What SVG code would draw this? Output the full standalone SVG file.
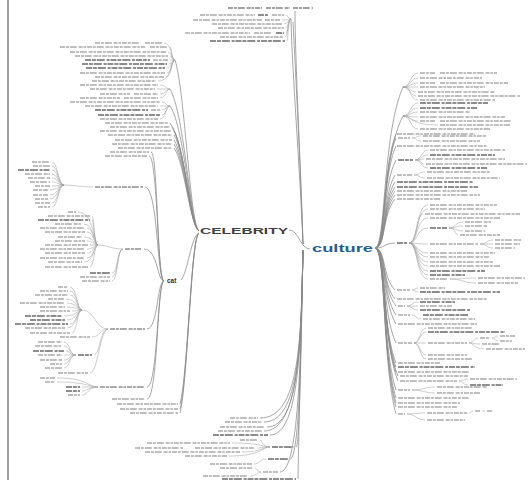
<svg xmlns="http://www.w3.org/2000/svg" width="529" height="480" viewBox="0 0 529 480">
<style>
.t{fill:none;stroke:#ababab;stroke-width:1.5;stroke-dasharray:5 .9 3 .9 7 1.8 4 .9 2.5 .9}
.b{fill:none;stroke:#6a6a6a;stroke-width:1.7;stroke-dasharray:6 .9 4 .9 8 1.8 3 .9}
.c{fill:none;stroke:#a4a4a4;stroke-width:.55}
.s{fill:none;stroke:#8a8a8a;stroke-width:.75}
.lbl{font-family:"Liberation Sans",Arial,sans-serif;font-weight:bold}
</style>
<rect width="529" height="480" fill="#fff"/>
<line x1="8" y1="0" x2="8" y2="480" stroke="#808080" stroke-width="1.5"/>

<g id="connectors">
<path class="s" d="M289 230C299 230 300 249 310 249"/>
<path class="s" d="M199 231C190 226 185 91 175 60M199 231C190 226 185 115 170 89M199 231C190 226 185 128 170 106M199 231C190 226 185 142 170 123M199 231C190 226 185 146 172 127M199 231C190 226 185 149 174 131M199 231C190 226 185 152 174 135M199 231C190 226 185 156 174 140M199 231C190 226 185 160 174 144M199 231C190 226 185 163 174 148"/>
<path class="c" d="M175 60C171 60 172 43 164 43M175 60C171 60 172 47 170 47M175 60C171 60 172 52 168 52M175 60C171 60 172 56 170 56M175 60C171 60 172 60 170 60M175 60C171 60 172 64 169 64M175 60C171 60 172 68 167 68M175 60C171 60 172 73 167 73M175 60C171 60 172 77 166 77M175 60C171 60 172 81 158 81"/>
<path class="c" d="M170 89C166 89 166 85 160 85M170 89C166 89 166 89 157 89M170 89C166 89 166 94 160 94M170 89C166 89 166 98 160 98"/>
<path class="c" d="M170 106C166 106 166 102 162 102M170 106C166 106 166 106 160 106M170 106C166 106 166 110 162 110M170 106C166 106 166 115 162 115M170 106C166 106 166 119 160 119"/>
<path class="s" d="M199 233C191 236 188 272 181 280M199 233C191 236 188 373 180 404M199 233C191 236 188 377 180 409M199 233C191 236 188 381 180 413"/>
<path class="s" d="M164 281C157 281 158 152 151 152M164 281C157 281 158 156 149 156M164 281C157 281 158 187 145 187M164 281C157 281 158 249 144 249M164 281C157 281 158 329 147 329M164 281C157 281 158 387 147 387M164 281C157 281 158 399 147 399"/>
<path class="c" d="M93 187C80 187 74 185 64 185M64 185C58 185 58 162 52 162M64 185C58 185 58 166 52 166M64 185C58 185 58 170 52 170M64 185C58 185 58 174 52 174M64 185C58 185 58 178 52 178M64 185C58 185 58 182 52 182M64 185C58 185 58 186 52 186M64 185C58 185 58 190 50 190M64 185C58 185 58 195 50 195M64 185C58 185 58 199 50 199M64 185C58 185 58 203 52 203M64 185C58 185 58 207 52 207"/>
<path class="c" d="M123 249C110 249 108 245 98 245M98 245C94 245 94 212 78 212M98 245C94 245 94 216 92 216M98 245C94 245 94 220 92 220M98 245C94 245 94 224 84 224M98 245C94 245 94 228 87 228M98 245C94 245 94 232 87 232M98 245C94 245 94 237 84 237M98 245C94 245 94 241 87 241M98 245C94 245 94 245 90 245M98 245C94 245 94 249 87 249M98 245C94 245 94 253 87 253M98 245C94 245 94 258 87 258M98 245C94 245 94 262 84 262M98 245C94 245 94 267 90 267M123 249C117 249 118 273 112 273M123 249C117 249 118 277 112 277M123 249C117 249 118 281 112 281"/>
<path class="c" d="M108 329C95 329 95 310 82 310M82 310C77 310 77 287 70 287M82 310C77 310 77 291 70 291M82 310C77 310 77 295 70 295M82 310C77 310 77 299 66 299M82 310C77 310 77 303 67 303M82 310C77 310 77 307 67 307M82 310C77 310 77 311 72 311M82 310C77 310 77 316 64 316M82 310C77 310 77 320 67 320M82 310C77 310 77 324 70 324M82 310C77 310 77 328 67 328M82 310C77 310 77 333 72 333M108 329C100 329 100 337 92 337M108 329C100 329 100 355 94 355M108 329C100 329 98 373 90 373"/>
<path class="c" d="M76 355C69 355 70 342 64 342M76 355C69 355 70 346 64 346M76 355C69 355 70 351 66 351M76 355C69 355 70 355 64 355M76 355C69 355 70 360 64 360M76 355C69 355 70 364 64 364M76 355C69 355 70 368 64 368"/>
<path class="c" d="M98 387C88 387 88 378 57 378M98 387C88 387 88 382 57 382M98 387C88 387 88 387 82 387M98 387C88 387 88 391 82 391M98 387C88 387 88 395 82 395"/>
<path class="s" d="M303 244C300 170 292 70 291 19M303 244C301 170 295 60 295 11M303 244C301 180 296 80 293 22"/>
<path class="c" d="M291 19C288 19 288 15 286 15M291 19C288 19 288 20 282 20M291 19C288 19 288 24 284 24M291 19C288 19 288 28 286 28M291 19C288 19 288 33 286 33M291 19C288 19 288 37 285 37M291 19C288 19 288 41 287 41"/>
<path class="s" d="M303 250C301 330 299 420 298 479M303 250C301 340 300 418 260 418M303 250C301 340 300 422 264 422M303 250C301 340 300 427 267 427M303 250C301 340 300 431 264 431M303 250C301 340 300 435 270 435M303 250C301 340 300 447 296 447M303 250C301 340 300 459 290 459M303 250C301 340 300 472 280 472"/>
<path class="c" d="M270 447C262 447 262 440 260 440M270 447C262 447 262 443 232 443M270 447C262 447 262 448 257 448M270 447C262 447 262 452 242 452M270 447C262 447 262 456 229 456M266 459C260 459 260 464 254 464M261 472C257 472 257 468 255 468M261 472C257 472 257 476 250 476"/>
<path class="s" d="M375 248C386 248 382 135 403 87M375 248C386 248 382 156 403 116M375 248C386 248 382 168 396 134M375 248C386 248 382 171 396 138M375 248C386 248 382 177 396 146M375 248C386 248 382 186 396 160M375 248C386 248 382 197 395 175M375 248C386 248 382 202 395 182M375 248C386 248 382 205 395 187M375 248C386 248 382 208 395 191M375 248C386 248 382 211 395 195M375 248C386 248 382 214 395 199M375 248C386 248 382 244 395 243M375 248C386 248 382 277 395 290M375 248C386 248 382 284 395 299M375 248C386 248 382 289 396 306M375 248C386 248 382 295 396 315M375 248C386 248 382 301 396 324M375 248C386 248 382 314 396 343M375 248C386 248 382 329 396 363M375 248C386 248 382 331 396 367M375 248C386 248 382 335 396 372M375 248C386 248 382 338 398 376M375 248C386 248 382 341 398 381M375 248C386 248 382 347 396 390M375 248C386 248 382 353 396 398M375 248C386 248 382 356 396 403M375 248C386 248 382 359 396 407M375 248C386 248 382 364 396 414"/>
<path class="c" d="M403 87C411 87 410 73 418 73M403 87C411 87 410 78 418 78M403 87C411 87 410 83 418 83M403 87C411 87 410 87 418 87M403 87C411 87 410 92 416 92M403 87C411 87 410 96 416 96M403 87C411 87 410 100 418 100M403 116C411 116 410 103 418 103M403 116C411 116 410 108 418 108M403 116C411 116 410 112 418 112M403 116C411 116 410 117 418 117M403 116C411 116 410 121 418 121M403 116C411 116 410 125 438 125M403 116C411 116 410 129 418 129"/>
<path class="c" d="M412 138C417 138 416 136 421 136M412 138C417 138 416 141 421 141M415 160C422 160 421 150 428 150M415 160C422 160 421 155 428 155M415 160C422 160 421 159 424 159M415 160C422 160 421 164 424 164M415 160C422 160 421 168 428 168M414 175C420 175 419 172 425 172M414 175C420 175 419 178 425 178"/>
<path class="c" d="M409 243C418 243 416 205 428 205M409 243C418 243 416 209 428 209M409 243C418 243 416 214 423 214M409 243C418 243 416 218 428 218M409 243C418 243 416 228 428 228M409 243C418 243 416 244 428 244M409 243C418 243 416 253 428 253M409 243C418 243 416 257 428 257M409 243C418 243 416 262 428 262M409 243C418 243 416 266 428 266M409 243C418 243 416 271 428 271M409 243C418 243 416 275 428 275M409 243C418 243 416 279 428 279M449 228C456 228 455 222 463 222M449 228C456 228 455 226 463 226M449 228C456 228 455 231 463 231M449 228C456 228 455 235 458 235M480 244C487 244 486 240 493 240M480 244C487 244 486 244 493 244M480 244C487 244 486 248 493 248M450 279C463 279 463 278 476 278M450 279C463 279 463 283 476 283"/>
<path class="c" d="M412 290C415 290 415 288 418 288M412 290C415 290 415 292 418 292M407 306C412 306 412 302 418 302M407 306C412 306 412 306 418 306M407 306C412 306 412 310 418 310M412 315C416 315 416 319 421 319M414 343C420 343 420 328 426 328M414 343C420 343 420 332 426 332M414 343C420 343 420 343 426 343M414 343C420 343 420 355 426 355M414 343C420 343 420 359 426 359M469 343C474 343 474 338 478 338M469 343C474 343 474 344 480 344M469 343C474 343 474 349 484 349M492 338C495 338 495 336 498 336M492 338C495 338 495 341 498 341M459 381C463 381 463 379 468 379M459 381C463 381 463 385 468 385M412 390C424 390 424 387 435 387M412 390C424 390 424 393 435 393M407 414C416 414 416 413 425 413M407 414C416 414 416 420 425 420M469 413C471 413 471 411 473 411M482 411H485"/>
</g>

<g id="celebrity"><text class="lbl" x="200" y="233.5" font-size="8.5" textLength="88" lengthAdjust="spacingAndGlyphs" fill="#404040">CELEBRITY</text></g>
<g id="culture"><text class="lbl" x="312" y="252" font-size="11.5" textLength="61" lengthAdjust="spacingAndGlyphs" fill="#255f90">culture</text></g>
<g id="cat"><text class="lbl" x="167" y="282.5" font-size="6.5" fill="#333">cat</text></g>

<g id="top-centre">
<path class="t" style="stroke:#858585" d="M228 8H262M266 8H290M293 8H313"/>
<path class="t" d="M200 15H255M272 15H284M193 20H262M265 20H280M212 24H282M218 28H284M185 33H250M254 33H272M220 37H283"/>
<path class="b" d="M258 15H268M276 33H284M210 41H285"/>
</g>

<g id="left-top">
<path class="t" d="M95 43H140M145 43H162M60 47H145M150 47H168M70 52H166M75 56H168M153 60H168M80 73H165M95 77H164M92 81H156M80 85H158M90 89H155M100 94H130M134 94H158M80 98H120M124 98H158M70 102H160M85 106H158M151 110H160M100 119H158M105 123H168M110 127H170M100 131H172M108 135H172M115 140H172M112 144H172M118 148H172"/>
<path class="b" d="M85 60H150M82 64H167M86 68H165M95 110H148M98 115H160"/>
</g>

<g id="cat-top"><path class="t" d="M110 152H149M105 156H147"/></g>

<g id="wie">
<path class="t" style="stroke:#8e8e8e" d="M95 187H143"/>
<path class="t" d="M32 162H50M33 166H50M25 174H50M28 178H50M30 182H50M35 186H50M33 190H48M33 195H48M35 199H48M35 203H50M38 207H50"/>
<path class="b" d="M18 170H50"/>
</g>

<g id="sub2">
<path class="t" style="stroke:#8e8e8e" d="M125 249H141"/>
<path class="t" d="M68 212H76M48 216H90M55 224H82M40 228H85M45 232H85M58 237H82M55 241H85M45 245H88M40 249H85M45 253H85M40 258H85M48 262H82M45 267H88M80 277H110M82 281H110"/>
<path class="b" d="M38 220H90M90 273H110"/>
</g>

<g id="sub3">
<path class="t" style="stroke:#8e8e8e" d="M110 329H145"/>
<path class="t" d="M58 287H68M40 291H68M35 295H68M48 299H64M20 303H65M40 307H65M40 311H70M25 328H65M30 333H70M60 337H90M58 373H88"/>
<path class="b" d="M25 316H62M30 320H65M15 324H68"/>
</g>

<g id="sub4">
<path class="b" d="M78 355H92M33 351H64"/>
<path class="t" d="M38 342H62M35 346H62M38 355H62M40 360H62M50 364H62M45 368H62"/>
</g>

<g id="sub5">
<path class="t" style="stroke:#8e8e8e" d="M100 387H145"/>
<path class="t" d="M40 378H55M45 382H55M68 395H80M112 399H145M117 404H178M120 409H178M130 413H178"/>
<path class="b" d="M66 387H80M66 391H80"/>
</g>

<g id="bottom-centre">
<path class="t" d="M230 418H258M225 422H262M220 427H265M218 431H262M240 440H258M147 443H230M135 448H183M195 448H255M145 452H240M185 456H227M210 464H252M220 468H253M263 472H278M203 476H248"/>
<path class="b" d="M213 435H268M272 447H294M268 459H288M222 479H296"/>
</g>

<g id="right-top">
<path class="t" d="M420 73H435M440 73H497M420 78H482M420 83H435M440 83H508M420 87H485M418 92H495M418 96H520M420 100H495M420 112H470M420 117H505M420 121H435M440 121H512M440 125H510M420 129H490"/>
<path class="b" d="M420 103H488M420 108H478"/>
</g>

<g id="right-mid">
<path class="t" d="M397 134H475M398 138H410M423 136H487M423 141H480M397 146H487M430 150H505M426 159H505M426 164H527M397 175H412M427 172H490M427 178H500M397 191H467M397 195H480M397 199H440"/>
<path class="b" d="M398 160H413M430 155H495M430 168H488M397 182H473M397 187H478"/>
</g>

<g id="right-xxx">
<path class="b" d="M397 243H407M430 228H447M430 271H485M430 275H465"/>
<path class="t" d="M430 205H497M430 209H485M425 214H520M430 218H500M465 222H492M465 226H487M465 231H485M460 235H500M430 244H478M495 240H522M495 244H520M495 248H515M430 253H495M430 257H490M430 262H493M430 266H500M430 279H448M478 278H525M478 283H518"/>
</g>

<g id="right-low">
<path class="t" d="M397 290H410M420 288H445M397 299H487M398 306H405M420 306H452M398 315H410M423 319H475M398 324H477M398 343H412M428 328H473M428 343H467M480 338H490M500 336H515M500 341H512M482 344H500M486 349H525M428 355H467M428 359H473M398 363H440M398 372H470M400 376H468M400 381H457M470 379H517M398 390H410M437 387H487M437 393H480M398 398H470M398 403H460M398 407H458M398 414H405M427 413H467M475 411H480M487 411H493M427 420H465"/>
<path class="b" d="M420 292H500M420 302H455M420 310H470M423 315H468M428 332H505M398 367H475M470 385H503"/>
</g>
</svg>
